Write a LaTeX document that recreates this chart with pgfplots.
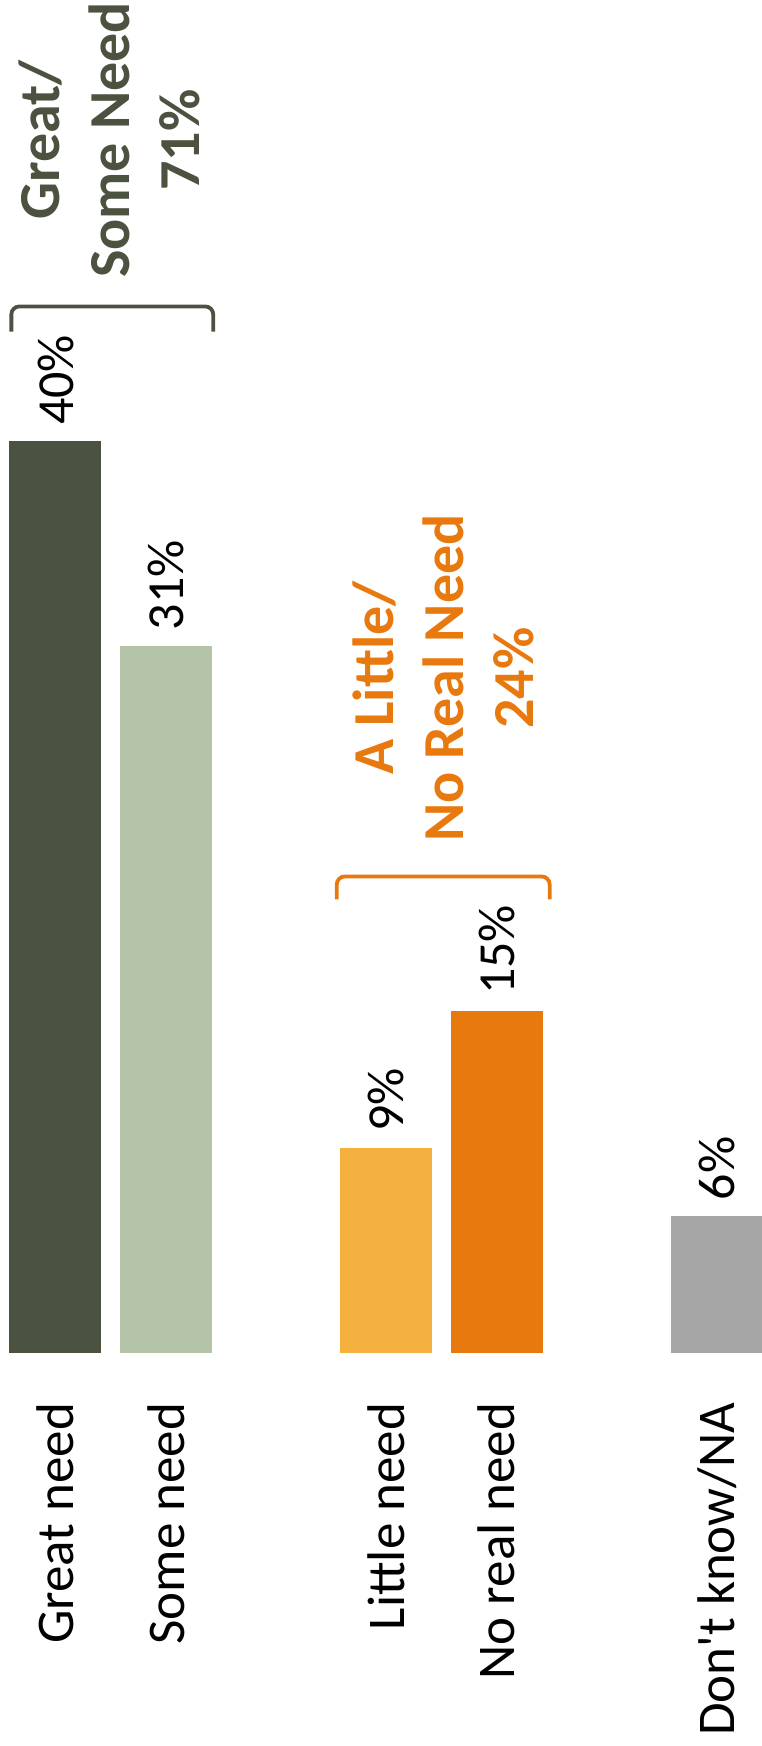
\documentclass[border=0pt]{standalone}
\usepackage{fontspec}
\setmainfont{Carlito}
\usepackage{pgfplots}
\pgfplotsset{compat=1.18}
\definecolor{dkgreen}{HTML}{4B523F}
\definecolor{ltgreen}{HTML}{B5C3A8}
\definecolor{ylw}{HTML}{F5B140}
\definecolor{org}{HTML}{E8790E}
\definecolor{gry}{HTML}{A6A6A6}
\begin{document}
\begin{tikzpicture}
\begin{axis}[
  scale only axis,
  width=381pt, height=676.5pt,
  xmin=-0.503, xmax=6.405, ymin=0, ymax=59.34,
  ybar, bar width=46pt, bar shift=0pt,
  axis x line*=bottom, axis y line=none,
  x axis line style={draw=none},
  major tick length=0pt,
  /pgf/number format/assume math mode=true,
  xtick={0,1,3,4,6},
  xticklabels={Great need, Some need, Little need, No real need, Don\textquotesingle t know/NA},
  xticklabel style={rotate=90, anchor=east, inner sep=0pt, outer xsep=25pt, font=\fontsize{26.5}{31}\selectfont},
  clip=false,
  nodes near coords={\pgfmathprintnumber{\pgfplotspointmeta}\%},
  every node near coord/.append style={rotate=90, anchor=west, inner sep=0pt, outer xsep=8pt, font=\fontsize{26}{31}\selectfont, text=black},
]
\addplot[fill=dkgreen, draw=none] coordinates {(0,40)};
\addplot[fill=ltgreen, draw=none] coordinates {(1,31)};
\addplot[fill=ylw, draw=none] coordinates {(3,9)};
\addplot[fill=org, draw=none] coordinates {(4,15)};
\addplot[fill=gry, draw=none] coordinates {(6,6)};
\draw[dkgreen, line width=1.9pt, rounded corners=4pt] (axis cs:-0.40,44.8) -- (axis cs:-0.40,45.9) -- (axis cs:1.43,45.9) -- (axis cs:1.43,44.8);
\draw[org, line width=1.9pt, rounded corners=4pt] (axis cs:2.55,19.9) -- (axis cs:2.55,20.9) -- (axis cs:4.48,20.9) -- (axis cs:4.48,19.9);
\node[rotate=90, align=center, text=dkgreen, font=\fontsize{29}{35}\selectfont\bfseries] at (axis cs:0.49,53.2) {Great/\\Some Need\\71\%};
\node[rotate=90, align=center, text=org, font=\fontsize{29}{35}\selectfont\bfseries] at (axis cs:3.52,29.6) {A Little/\\No Real Need\\24\%};
\end{axis}
\pgfresetboundingbox
\path[use as bounding box] ([yshift=-196.5pt]current axis.south west) rectangle (current axis.north east);
\end{tikzpicture}
\end{document}
